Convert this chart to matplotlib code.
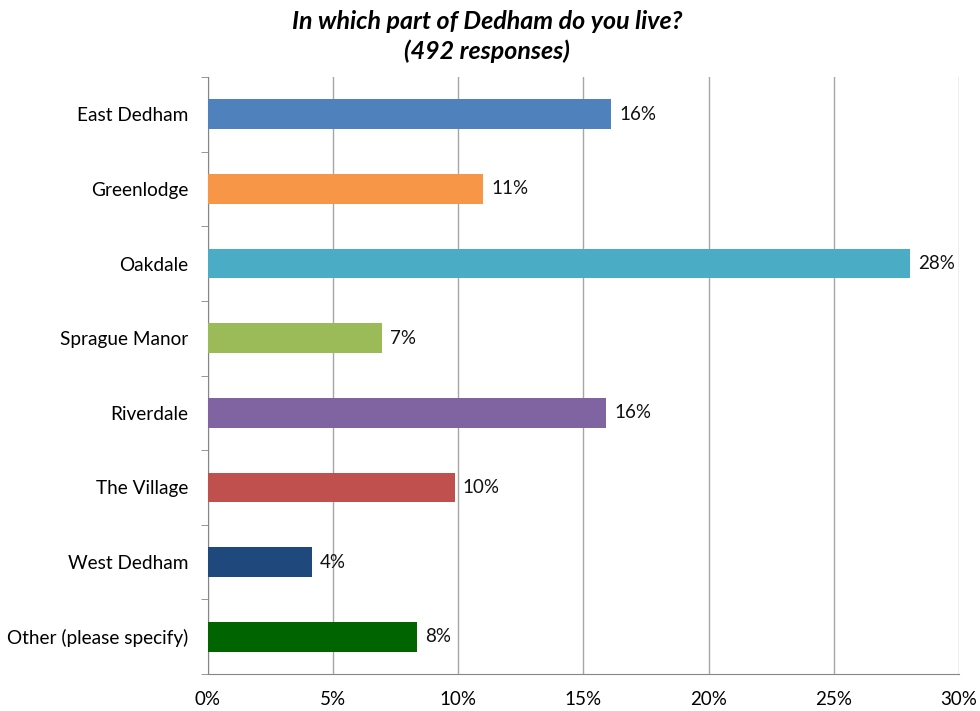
import matplotlib.pyplot as plt
import numpy as np
from matplotlib.ticker import FuncFormatter, FixedLocator

plt.rcParams['font.family'] = ['Lato', 'DejaVu Sans']

areas = ["East Dedham", "Greenlodge", "Oakdale", "Sprague Manor",
         "Riverdale", "The Village", "West Dedham", "Other (please specify)"]
pct = [16.1, 11.0, 28.05, 6.95, 15.9, 9.85, 4.15, 8.35]
bar_labels = ["16%", "11%", "28%", "7%", "16%", "10%", "4%", "8%"]
colors = ["#4F81BD", "#F79646", "#4BACC6", "#9BBB59",
          "#8064A2", "#C0504D", "#1F497D", "#006400"]

fig = plt.figure(figsize=(9.8, 7.11), dpi=100)
ax = fig.add_axes([0.2122, 0.052, 0.7664, 0.8397])

y = np.arange(len(areas))
bars = ax.barh(y, pct, height=0.4, color=colors, zorder=3)

for b, txt in zip(bars, bar_labels):
    ax.annotate(txt, (b.get_width(), b.get_y() + b.get_height() / 2),
                xytext=(6, 0), textcoords='offset points',
                va='center', ha='left', fontsize=13.5, color='#111111')

ax.set_xlim(0, 30)
ax.set_ylim(len(areas) - 0.5, -0.5)
ax.set_xticks(np.arange(0, 31, 5))
ax.xaxis.set_major_formatter(FuncFormatter(lambda v, p: f"{v:.0f}%"))
ax.set_yticks(y)
ax.set_yticklabels(areas)
ax.yaxis.set_minor_locator(FixedLocator(np.arange(-0.5, len(areas), 1.0)))

ax.tick_params(axis='y', which='major', length=0, pad=14, labelsize=13.7)
ax.tick_params(axis='y', which='minor', length=5, color='#868686')
ax.tick_params(axis='x', which='major', length=0, pad=12, labelsize=13.5)

ax.grid(axis='x', color='#a6a6a6', lw=1, zorder=0)
for s in ['top', 'right']:
    ax.spines[s].set_visible(False)
for s in ['left', 'bottom']:
    ax.spines[s].set_color('#868686')

fig.text(0.497, 0.986, "In which part of Dedham do you live?\n(492 responses)",
         ha='center', va='top', fontsize=18, fontweight='bold',
         fontstyle='italic', linespacing=1.35)

fig.savefig('out.png', dpi=100, facecolor='white')
